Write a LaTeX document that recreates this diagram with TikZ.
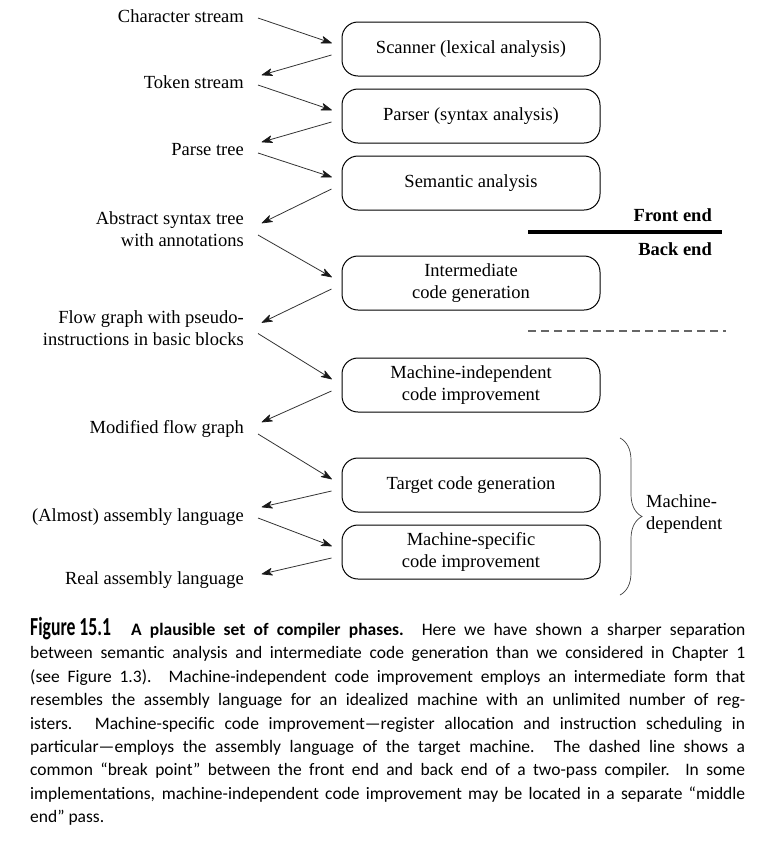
\documentclass[tikz,border=0pt]{standalone}
\usepackage{fontspec}
\usepackage{graphicx}
\setmainfont{Liberation Serif}
\newfontfamily\capfont{Carlito}
\newcommand\diafont{\fontsize{18.5}{22}\selectfont}
\usetikzlibrary{positioning,calc,decorations.pathreplacing}

% connector from #1 to #2 with a stealth-like head drawn by hand
\newcommand\flowarrow[2]{%
	\coordinate (fa) at (#1);
	\coordinate (fb) at (#2);
	\draw[flow] (fa) -- ($(fb)!6pt!(fa)$);
	\draw[flowhead] (fb) -- ($(fb)!10pt!(fa)!3.4pt!90:(fb)$) -- ($(fb)!7pt!(fa)$)
		-- ($(fb)!10pt!(fa)!3.4pt!-90:(fb)$) -- cycle;
}

\begin{document}
\begin{tikzpicture}[
			flow/.style = {line width=0.8pt, draw=black!80},
			flowhead/.style = {line width=0.7pt, line join=round, draw=black!90, fill=black!90},
			font = \diafont
			]
			
			\tikzset{
			phase/.style = {draw, line width=1pt, rounded corners=16pt,
				minimum width=258pt, minimum height=54pt, align=center, inner sep=2pt},
			data/.style = {anchor=east, align=right, inner sep=0pt}
			}
			
			\useasboundingbox (0pt,0pt) rectangle (757pt,-847pt);
			
			% phases
			\node[phase] (scan) at (471pt,-49pt) {Scanner (lexical analysis)};
			\node[phase] (parse) [below=12pt of scan] {Parser (syntax analysis)};
			\node[phase] (sem) [below=12pt of parse] {Semantic analysis};
			\node[phase] (icg) [below=45pt of sem] {Intermediate\\code generation};
			\node[phase] (mici) [below=47pt of icg] {Machine-independent\\code improvement};
			\node[phase] (tcg) [below=45pt of mici] {Target code generation};
			\node[phase] (msci) [below=12pt of tcg] {Machine-specific\\code improvement};
			
			% intermediate forms
			\node[data] (cs) at (244pt,-16pt) {Character stream};
			\node[data] (ts) at (244pt,-82pt) {Token stream};
			\node[data] (pt) at (244pt,-150pt) {Parse tree};
			\node[data] (ast) at (244pt,-229pt) {Abstract syntax tree\\with annotations};
			\node[data] (fg) at (244pt,-328.5pt) {Flow graph with pseudo-\\instructions in basic blocks};
			\node[data] (mfg) at (244pt,-429pt) {Modified flow graph};
			\node[data] (al) at (244pt,-517pt) {(Almost) assembly language};
			\node[data] (ral) at (244pt,-580pt) {Real assembly language};
			
			\flowarrow{[xshift=14pt,yshift=-2pt]cs.east}{[xshift=-10pt,yshift=6pt]scan.west}
			\flowarrow{[xshift=-10pt,yshift=-6pt]scan.west}{[xshift=18pt,yshift=7pt]ts.east}
			\flowarrow{[xshift=14pt,yshift=-3pt]ts.east}{[xshift=-10pt,yshift=6pt]parse.west}
			\flowarrow{[xshift=-10pt,yshift=-6pt]parse.west}{[xshift=18pt,yshift=8pt]pt.east}
			\flowarrow{[xshift=14pt,yshift=-3pt]pt.east}{[xshift=-10pt,yshift=6pt]sem.west}
			\flowarrow{[xshift=-10pt,yshift=-6pt]sem.west}{[xshift=18pt,yshift=6pt]ast.east}
			\flowarrow{[xshift=14pt,yshift=-6pt]ast.east}{[xshift=-10pt,yshift=6pt]icg.west}
			\flowarrow{[xshift=-10pt,yshift=-6pt]icg.west}{[xshift=18pt,yshift=6pt]fg.east}
			\flowarrow{[xshift=14pt,yshift=-5pt]fg.east}{[xshift=-10pt,yshift=6pt]mici.west}
			\flowarrow{[xshift=-10pt,yshift=-6pt]mici.west}{[xshift=18pt,yshift=7pt]mfg.east}
			\flowarrow{[xshift=14pt,yshift=-5pt]mfg.east}{[xshift=-10pt,yshift=6pt]tcg.west}
			\flowarrow{[xshift=-10pt,yshift=-6pt]tcg.west}{[xshift=18pt,yshift=10pt]al.east}
			\flowarrow{[xshift=14pt,yshift=-1pt]al.east}{[xshift=-10pt,yshift=6pt]msci.west}
			\flowarrow{[xshift=-10pt,yshift=-6pt]msci.west}{[xshift=18pt,yshift=6pt]ral.east}
			
			% front end / back end split
			\coordinate (split1) at (528pt,-232pt);
			\coordinate (split2) at (722pt,-232pt);
			\draw[line width=4pt] (split1) -- (split2);
			\node[anchor=east, inner sep=0pt, font=\diafont\bfseries] (front) at (712pt,-215pt) {Front end};
			\node[anchor=east, inner sep=0pt, font=\diafont\bfseries] (back) at (712pt,-249pt) {Back end};
			
			% break point of a two-pass compiler
			\coordinate (brk1) at (528pt,-331pt);
			\coordinate (brk2) at (726pt,-331pt);
			\draw[line width=1.4pt, draw=black!60, dash pattern=on 8pt off 5pt] (brk1) -- (brk2);
			
			% machine-dependent phases
			\coordinate (btop) at (620pt,-438pt);
			\coordinate (bbot) at (620pt,-595pt);
			\draw[decorate, decoration={brace, amplitude=22pt}, line width=0.7pt, draw=black!75] (btop) -- (bbot);
			\node[anchor=west, align=left, inner sep=0pt] (mdep) at (646pt,-514pt) {Machine-\\dependent};
			
			% caption
			\node[anchor=north west, inner sep=0pt, text width=715pt, align=justify,
				font=\capfont\fontsize{17.5}{23.4}\selectfont] (caption) at (30pt,-617pt)
			{{\bfseries\fontsize{26}{23.4}\selectfont\scalebox{0.68}[1]{Figure 15.1}}\hspace{20pt}{\bfseries A plausible set of compiler phases.}
				Here we have shown a sharper separation\linebreak
				between semantic analysis and intermediate code generation than we considered in Chapter 1\linebreak
				(see Figure 1.3).  Machine-independent code improvement employs an intermediate form that\linebreak
				resembles the assembly language for an idealized machine with an unlimited number of reg-\linebreak
				isters.  Machine-specific code improvement—register allocation and instruction scheduling in\linebreak
				particular—employs the assembly language of the target machine.  The dashed line shows a\linebreak
				common “break point” between the front end and back end of a two-pass compiler.  In some\linebreak
				implementations, machine-independent code improvement may be located in a separate “middle\linebreak
				end” pass.};
		\end{tikzpicture}
\end{document}
